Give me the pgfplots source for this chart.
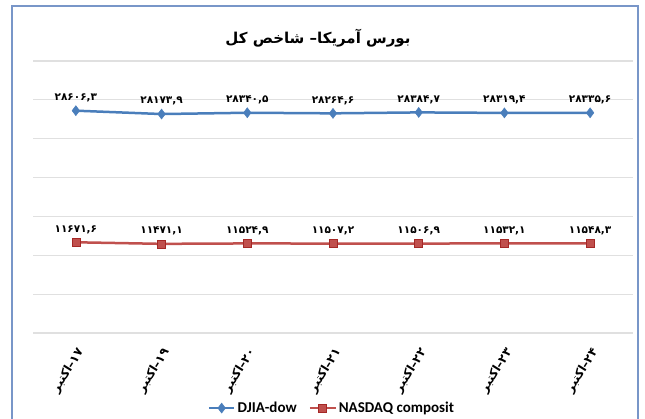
\documentclass[border=0pt]{standalone}
\usepackage{fontspec}
\usepackage{pgfplots}
\usepackage{pgfplotstable}
\pgfplotsset{compat=1.18}
\setmainfont{Carlito}
\newfontfamily\arabicfont[Script=Arabic]{DejaVu Sans}
\TeXXeTstate=1
\definecolor{djblue}{RGB}{74,126,187}
\definecolor{nqred}{RGB}{192,80,77}
\definecolor{nqredd}{RGB}{165,40,38}
\definecolor{framec}{RGB}{120,150,200}
\newcommand{\oct}[1]{\hbox{اکتبر}\hbox{–}\hbox{#1}}

\pgfplotstableread{
x y lab
0 28606.3 ۲۸۶۰۶,۳
1 28173.9 ۲۸۱۷۳,۹
2 28340.5 ۲۸۳۴۰,۵
3 28264.6 ۲۸۲۶۴,۶
4 28384.7 ۲۸۳۸۴,۷
5 28319.4 ۲۸۳۱۹,۴
6 28335.6 ۲۸۳۳۵,۶
}\djia

\pgfplotstableread{
x y lab
0 11671.6 ۱۱۶۷۱,۶
1 11471.1 ۱۱۴۷۱,۱
2 11524.9 ۱۱۵۲۴,۹
3 11507.2 ۱۱۵۰۷,۲
4 11506.9 ۱۱۵۰۶,۹
5 11532.1 ۱۱۵۳۲,۱
6 11548.3 ۱۱۵۴۸,۳
}\nasdaq

\begin{document}
\begin{tikzpicture}
\path[use as bounding box] (0,0) rectangle (645pt,419pt);
\draw[framec, line width=1.5pt] (12pt,-10pt) -- (12pt,413pt) -- (638pt,413pt) -- (638pt,-10pt);
\node[font=\arabicfont\bfseries\fontsize{15}{18}\selectfont] at (318pt,381pt) {\beginR بورس آمریکا– شاخص کل\endR};
\begin{axis}[
  at={(33pt,86pt)}, anchor=south west,
  width=600pt, height=272pt, scale only axis,
  xmin=-0.5, xmax=6.5, ymin=0, ymax=35000,
  ytick={0,5000,...,35000}, yticklabels={}, scaled y ticks=false,
  ymajorgrids, grid style={black!12, line width=1.2pt},
  axis line style={draw=none}, tick style={draw=none},
  xtick={0,...,6},
  xticklabels={{\oct{۱۷}},{\oct{۱۹}},{\oct{۲۰}},{\oct{۲۱}},{\oct{۲۲}},{\oct{۲۳}},{\oct{۲۴}}},
  xticklabel style={font=\arabicfont\bfseries\fontsize{12}{14}\selectfont, yshift=-14pt, xshift=7pt, rotate=58, anchor=east},
  point meta=explicit symbolic,
  nodes near coords,
  every node near coord/.style={font=\arabicfont\bfseries\fontsize{10.5}{12}\selectfont, anchor=south, yshift=5pt, black},
  legend image code/.code={\draw[mark repeat=2,mark phase=2] plot coordinates {(0cm,0cm) (0.45cm,0cm) (0.9cm,0cm)};},
  legend style={at={(0.498,-0.276)}, anchor=center, draw=none, fill=none, legend columns=2,
    font=\bfseries\fontsize{15}{17}\selectfont, /tikz/every even column/.append style={column sep=10pt}},
  legend cell align=left,
]
\addplot[djblue, line width=2.5pt, mark=diamond*, mark size=5pt, mark options={fill=djblue, draw=djblue, line width=0.5pt}]
  table[x=x, y=y, meta=lab] {\djia};
\addlegendentry{DJIA-dow}
\addplot[nqred, line width=2.5pt, mark=square*, mark size=4pt, mark options={fill=nqred, draw=nqredd, line width=0.6pt}]
  table[x=x, y=y, meta=lab] {\nasdaq};
\addlegendentry{NASDAQ composit}
\end{axis}
\end{tikzpicture}
\end{document}
